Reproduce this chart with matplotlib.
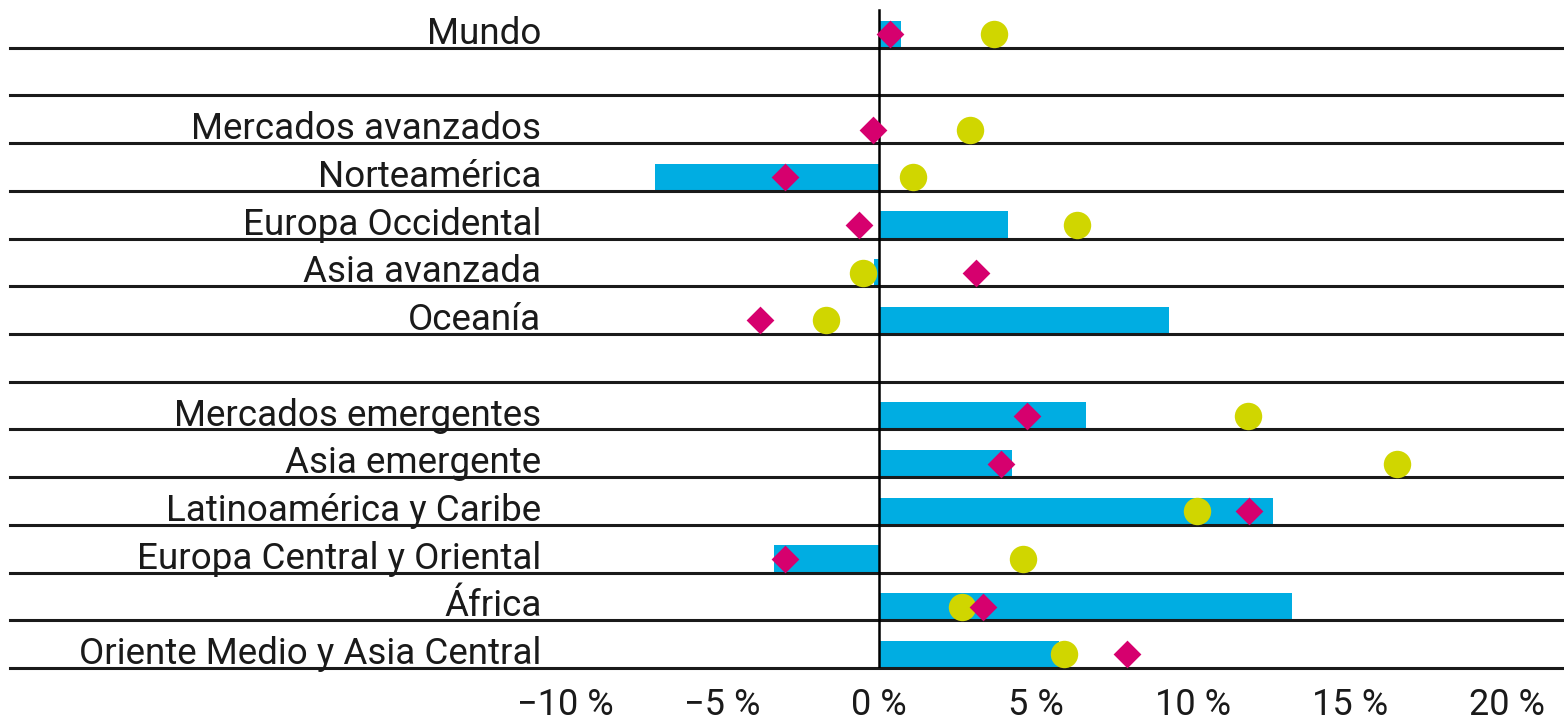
import numpy as np
import matplotlib
matplotlib.use("Agg")
import matplotlib.pyplot as plt

plt.rcParams['font.family'] = ['Roboto', 'DejaVu Sans']

regiones = [
    "Mundo", "",
    "Mercados avanzados", "Norteamérica", "Europa Occidental",
    "Asia avanzada", "Oceanía", "",
    "Mercados emergentes", "Asia emergente", "Latinoamérica y Caribe",
    "Europa Central y Oriental", "África", "Oriente Medio y Asia Central",
]

barras = [0.7, np.nan, 0.0, -7.15, 4.1, -0.15, 9.25, np.nan,
          6.6, 4.25, 12.55, -3.35, 13.15, 5.75]
rombos = [0.35, np.nan, -0.2, -3.0, -0.65, 3.1, -3.8, np.nan,
          4.7, 3.9, 11.8, -3.0, 3.3, 7.9]
circulos = [3.65, np.nan, 2.9, 1.08, 6.3, -0.5, -1.7, np.nan,
            11.75, 16.5, 10.15, 4.6, 2.65, 5.9]

ticks = [-10, -5, 0, 5, 10, 15, 20]

azul = "#00ade2"
magenta = "#d6006e"
amarillo = "#d0d600"

fig = plt.figure(figsize=(15.64, 7.26), dpi=100)
ax = fig.add_axes([10 / 1564, 1 - 668 / 726, 1553 / 1564, 668 / 726])

n = len(regiones)
y = np.arange(n)
alto = 0.57
centro = y + 0.5 - alto / 2

ax.barh(y + 0.5, barras, height=-alto, align='edge', color=azul, zorder=2)

for i in range(n):
    ax.axhline(i + 0.5, color="#1a1a1a", lw=2.2, zorder=3, clip_on=False)

ax.plot([0, 0], [-0.3, n - 0.5], color="black", lw=1.8, zorder=3)

ax.scatter(circulos, centro, s=390, color=amarillo, zorder=4, linewidths=0)
ax.scatter(rombos, centro, marker='D', s=200, color=magenta, zorder=5, linewidths=0)

for i, nombre in enumerate(regiones):
    if nombre:
        ax.text(-10.76, i + 0.42, nombre, ha='right', va='baseline',
                fontsize=26.5, color="#1a1a1a")

ax.set_xlim(-27.7, 21.8)
ax.set_ylim(n - 0.5, -0.5)
ax.set_xticks(ticks)
ax.set_xticklabels([f"{t} %".replace("-", "\u2212") for t in ticks],
                   fontsize=26, color="#1a1a1a")
ax.tick_params(axis='x', length=0, pad=14)
ax.set_yticks([])
for s in ax.spines.values():
    s.set_visible(False)

fig.savefig("out.png", dpi=100)
